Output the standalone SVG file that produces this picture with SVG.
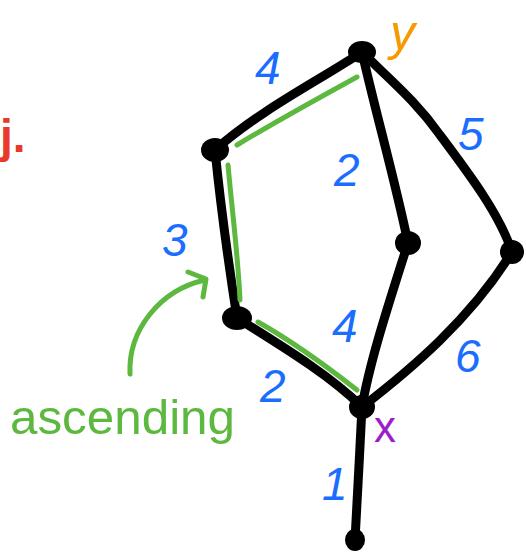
<svg xmlns="http://www.w3.org/2000/svg" width="526" height="556" viewBox="0 0 526 556">
<style>
.edge{fill:none;stroke:#000;stroke-width:9;stroke-linecap:round;stroke-linejoin:round}
.hl{fill:none;stroke:#5cb83f;stroke-width:5;stroke-linecap:round;stroke-linejoin:round}
.node{fill:#000}
.w{font-family:"Liberation Sans",Arial,sans-serif;font-size:46px;fill:#1a6dff;font-style:italic}
</style>
<rect width="526" height="556" fill="#fff"/>
<text x="0" y="152" font-family="Liberation Sans,Arial,sans-serif" font-size="46" fill="#e8392b" font-weight="bold">j.</text>
<g id="connectors">
<path class="edge" d="M362,52 C320,80 260,110 215,150"/>
<path class="edge" d="M215,150 C220,200 228,260 237,318"/>
<path class="edge" d="M237,318 C280,345 330,375 362,407"/>
<path class="edge" d="M362,52 C375,110 395,180 408,243"/>
<path class="edge" d="M408,243 C390,300 370,360 362,407"/>
<path class="edge" d="M362,52 C390,80 415,100 440,135 C470,175 500,215 512,252"/>
<path class="edge" d="M512,252 C470,320 410,370 362,407"/>
<path class="edge" d="M362,407 C360,450 357,500 355,540"/>
</g>
<g id="highlight">
<path class="hl" d="M357,77 C315,100 275,122 237,145"/>
<path class="hl" d="M228,165 C232,210 238,255 240,300"/>
<path class="hl" d="M258,322 C290,340 325,365 357,390"/>
<path class="hl" d="M130,374 C128,330 160,290 205,280"/>
<path class="hl" d="M188,272 L206,279 L203,297"/>
</g>
<g id="nY"><ellipse class="node" cx="362" cy="52" rx="14" ry="11"/></g>
<g id="nTL"><ellipse class="node" cx="215" cy="150" rx="14" ry="12"/></g>
<g id="nBL"><ellipse class="node" cx="237" cy="318" rx="15" ry="12"/></g>
<g id="nM"><ellipse class="node" cx="408" cy="243" rx="13" ry="12"/></g>
<g id="nR"><ellipse class="node" cx="512" cy="252" rx="12" ry="12"/></g>
<g id="nX"><ellipse class="node" cx="362" cy="407" rx="13" ry="12"/></g>
<g id="nB"><ellipse class="node" cx="355" cy="540" rx="10" ry="11"/></g>
<g id="labels">
<text class="w" x="255" y="84">4</text>
<text class="w" x="162" y="256">3</text>
<text class="w" x="260" y="402">2</text>
<text class="w" x="334" y="186">2</text>
<text class="w" x="332" y="342">4</text>
<text class="w" x="458" y="150">5</text>
<text class="w" x="455" y="372">6</text>
<text class="w" x="322" y="500">1</text>
<text x="390" y="50" font-family="Liberation Sans,Arial,sans-serif" font-size="50" fill="#f59a00" font-style="italic">y</text>
<text x="374" y="442" font-family="Liberation Sans,Arial,sans-serif" font-size="44" fill="#9b1fc8">x</text>
<text x="10" y="434" font-family="Liberation Sans,Arial,sans-serif" font-size="48" fill="#5cb83f" textLength="225" lengthAdjust="spacingAndGlyphs">ascending</text>
</g>
</svg>
